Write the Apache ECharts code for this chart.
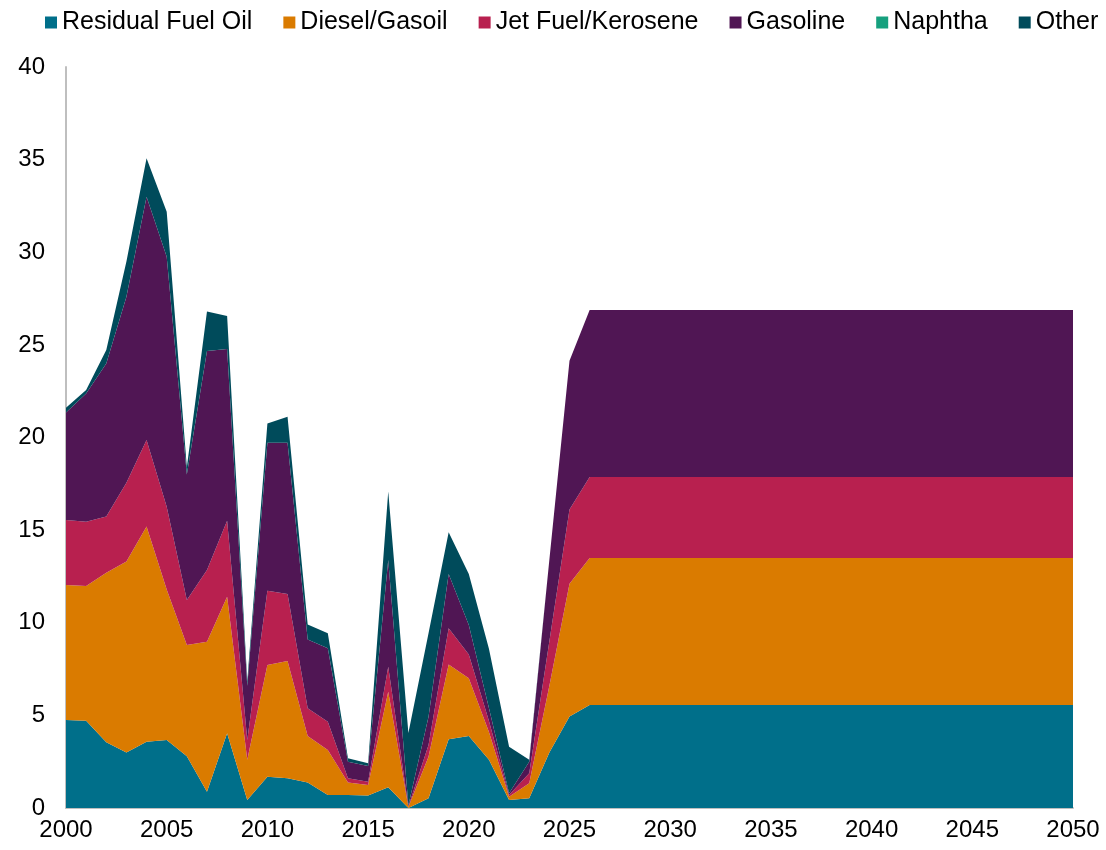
<!DOCTYPE html>
<html>
<head>
<meta charset="utf-8">
<script src="https://cdn.jsdelivr.net/npm/echarts@6/dist/echarts.min.js"></script>
<style>
html, body { margin: 0; padding: 0; background: #fff; }
#main { width: 1106px; height: 850px; }
</style>
</head>
<body>
<div id="main"></div>
<script>
// years on the x axis
var years = ['2000', '2001', '2002', '2003', '2004', '2005', '2006', '2007', '2008', '2009',
    '2010', '2011', '2012', '2013', '2014', '2015', '2016', '2017', '2018', '2019',
    '2020', '2021', '2022', '2023', '2024', '2025', '2026', '2027', '2028', '2029',
    '2030', '2031', '2032', '2033', '2034', '2035', '2036', '2037', '2038', '2039',
    '2040', '2041', '2042', '2043', '2044', '2045', '2046', '2047', '2048', '2049', '2050'];

var seriesNames = ['Residual Fuel Oil', 'Diesel/Gasoil', 'Jet Fuel/Kerosene', 'Gasoline', 'Naphtha', 'Other'];

var residual = [4.75, 4.71, 3.55, 2.99, 3.58, 3.67, 2.8, 0.88, 4.03, 0.43,
    1.69, 1.6, 1.37, 0.7, 0.7, 0.67, 1.12, 0, 0.52, 3.71,
    3.89, 2.6, 0.43, 0.52, 3.0, 4.94, 5.56, 5.56, 5.56, 5.56,
    5.56, 5.56, 5.56, 5.56, 5.56, 5.56, 5.56, 5.56, 5.56, 5.56,
    5.56, 5.56, 5.56, 5.56, 5.56, 5.56, 5.56, 5.56, 5.56, 5.56, 5.56];

var diesel = [7.29, 7.27, 9.15, 10.31, 11.61, 8.13, 6.0, 8.1, 7.37, 2.17,
    6.03, 6.34, 2.52, 2.43, 0.67, 0.57, 5.16, 0.05, 2.25, 4.04,
    3.11, 1.5, 0.18, 0.81, 3.6, 7.17, 7.94, 7.94, 7.94, 7.94,
    7.94, 7.94, 7.94, 7.94, 7.94, 7.94, 7.94, 7.94, 7.94, 7.94,
    7.94, 7.94, 7.94, 7.94, 7.94, 7.94, 7.94, 7.94, 7.94, 7.94, 7.94];

var jetFuel = [3.51, 3.47, 3.03, 4.26, 4.68, 4.46, 2.43, 3.87, 4.1, 1.07,
    4.01, 3.61, 1.49, 1.53, 0.23, 0.18, 1.35, 0.03, 0.63, 1.95,
    1.29, 0.6, 0.09, 0.54, 2.4, 4.01, 4.37, 4.37, 4.37, 4.37,
    4.37, 4.37, 4.37, 4.37, 4.37, 4.37, 4.37, 4.37, 4.37, 4.37,
    4.37, 4.37, 4.37, 4.37, 4.37, 4.37, 4.37, 4.37, 4.37, 4.37, 4.37];

var gasoline = [5.8, 6.93, 8.27, 10.04, 13.13, 13.5, 6.77, 11.82, 9.28, 2.93,
    7.99, 8.17, 3.72, 3.96, 0.9, 0.85, 5.76, 0.07, 1.53, 2.93,
    1.59, 0.7, 0.1, 0.63, 4.4, 8.02, 9.01, 9.01, 9.01, 9.01,
    9.01, 9.01, 9.01, 9.01, 9.01, 9.01, 9.01, 9.01, 9.01, 9.01,
    9.01, 9.01, 9.01, 9.01, 9.01, 9.01, 9.01, 9.01, 9.01, 9.01, 9.01];

var naphtha = [0, 0, 0, 0, 0, 0, 0, 0, 0, 0,
    0, 0, 0, 0, 0, 0, 0, 0, 0, 0,
    0, 0, 0, 0, 0, 0, 0, 0, 0, 0,
    0, 0, 0, 0, 0, 0, 0, 0, 0, 0,
    0, 0, 0, 0, 0, 0, 0, 0, 0, 0, 0];

var other = [0.25, 0.18, 0.72, 1.9, 2.07, 2.43, 0.4, 2.13, 1.78, 0.25,
    1.04, 1.4, 0.8, 0.81, 0.18, 0.14, 3.69, 3.9, 4.5, 2.25,
    2.75, 3.2, 2.5, 0.1, 0, 0, 0, 0, 0, 0,
    0, 0, 0, 0, 0, 0, 0, 0, 0, 0,
    0, 0, 0, 0, 0, 0, 0, 0, 0, 0, 0];

var colors = ['#006F8A', '#DA7B00', '#B8204F', '#501654', '#16A07E', '#004B5B'];

function areaSeries(name, values, color){
    return {
        name: name,
        type: 'line',
        stack: 'total',
        data: values,
        showSymbol: false,
        symbol: 'none',
        lineStyle: { width: 0 },
        areaStyle: { color: color, opacity: 1 },
        itemStyle: { color: color },
        emphasis: { disabled: true },
        animation: false
    };
}

var myChart = echarts.init(document.getElementById('main'));

var option = {
    backgroundColor: '#fff',
    color: colors,
    legend: {
        top: 5,
        left: 40,
        itemWidth: 12,
        itemHeight: 12,
        itemGap: 31,
        icon: 'rect',
        textStyle: {
            fontFamily: 'Liberation Sans, Arial, sans-serif',
            fontSize: 25,
            color: '#000'
        },
        data: seriesNames
    },
    grid: {
        left: 66,
        right: 33,
        top: 67,
        bottom: 42
    },
    xAxis: {
        type: 'category',
        data: years,
        boundaryGap: false,
        axisLine: { show: true, lineStyle: { color: '#BFBFBF', width: 2 } },
        axisTick: { show: false },
        splitLine: { show: false },
        axisLabel: {
            interval: 4,
            margin: 10,
            fontFamily: 'Liberation Sans, Arial, sans-serif',
            fontSize: 24,
            color: '#000'
        }
    },
    yAxis: {
        type: 'value',
        min: 0,
        max: 40,
        interval: 5,
        axisLine: { show: true, lineStyle: { color: '#BFBFBF', width: 2 } },
        axisTick: { show: false },
        splitLine: { show: false },
        axisLabel: {
            margin: 21,
            fontFamily: 'Liberation Sans, Arial, sans-serif',
            fontSize: 24,
            color: '#000'
        }
    },
    series: [
        areaSeries(seriesNames[0], residual, colors[0]),
        areaSeries(seriesNames[1], diesel, colors[1]),
        areaSeries(seriesNames[2], jetFuel, colors[2]),
        areaSeries(seriesNames[3], gasoline, colors[3]),
        areaSeries(seriesNames[4], naphtha, colors[4]),
        areaSeries(seriesNames[5], other, colors[5])
    ]
};

myChart.setOption(option);

window.addEventListener('resize', function(){
    myChart.resize();
});
</script>
</body>
</html>
